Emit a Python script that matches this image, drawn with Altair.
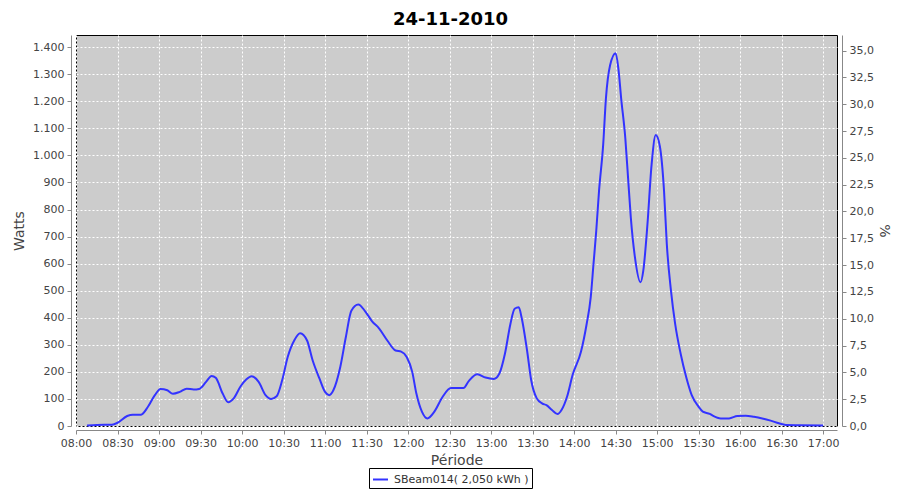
import altair as alt
import pandas as pd

# ---- data ----
times = ["08:08", "08:15", "08:26", "08:30", "08:37", "08:41", "08:47", "08:52", "08:57",
         "09:01", "09:06", "09:10", "09:15", "09:20", "09:25", "09:29", "09:34", "09:38",
         "09:41", "09:46", "09:50", "09:54", "09:59", "10:03", "10:07", "10:12", "10:17",
         "10:21", "10:25", "10:29", "10:33", "10:38", "10:42", "10:47", "10:51", "10:56",
         "11:00", "11:03", "11:06", "11:11", "11:15", "11:19", "11:24", "11:29", "11:34",
         "11:39", "11:45", "11:51", "11:55", "11:59", "12:03", "12:06", "12:10", "12:14",
         "12:19", "12:25", "12:31", "12:40", "12:44", "12:50", "12:56", "13:02", "13:06",
         "13:10", "13:14", "13:17", "13:20", "13:22", "13:26", "13:29", "13:33", "13:37",
         "13:40", "13:44", "13:48", "13:51", "13:55", "13:59", "14:05", "14:09", "14:12",
         "14:14", "14:16", "14:18", "14:21", "14:23", "14:26", "14:30", "14:32", "14:34",
         "14:37", "14:39", "14:41", "14:44", "14:48", "14:50", "14:53", "14:56", "14:59",
         "15:02", "15:05", "15:07", "15:10", "15:13", "15:17", "15:21", "15:25", "15:30",
         "15:33", "15:38", "15:40", "15:46", "15:52", "15:58", "16:04", "16:10", "16:16",
         "16:22", "16:28", "16:33", "16:43", "17:00"]
watts = [2, 4, 5, 12, 37, 42, 42, 71, 114,
         137, 132, 119, 126, 138, 135, 137, 163, 185,
         178, 120, 88, 102, 147, 172, 184, 163, 114,
         100, 110, 169, 255, 319, 343, 316, 243, 175,
         126, 114, 132, 218, 328, 426, 449, 424, 387,
         361, 316, 279, 275, 255, 200, 120, 53, 28,
         53, 108, 140, 140, 167, 191, 179, 174, 194,
         267, 378, 433, 439, 402, 279, 169, 102, 83,
         77, 59, 44, 60, 110, 190, 275, 375, 475,
         598, 721, 868, 1039, 1211, 1333, 1378, 1321, 1211,
         1064, 917, 769, 622, 531, 574, 745, 966, 1075,
         1033, 868, 672, 500, 378, 267, 181, 114, 71,
         53, 45, 39, 28, 28, 37, 38, 34, 28,
         20, 10, 4, 3, 2]
series_name = "SBeam014( 2,050 kWh )"
x_ticks = list(range(480, 1021, 30))          # 08:00 .. 17:00, minutes
watt_ticks = list(range(0, 1401, 100))
pct_ticks = [0, 2.5, 5, 7.5, 10, 12.5, 15, 17.5, 20, 22.5, 25, 27.5, 30, 32.5, 35]


def to_min(t):
    h, m = t.split(":")
    return int(h) * 60 + int(m)


df = pd.DataFrame({"minute": [to_min(t) for t in times], "watts": watts,
                   "series": series_name})
pct_df = pd.DataFrame({"p": [pct_ticks[0], pct_ticks[-1]]})

time_label = ("(floor(datum.value/60) < 10 ? '0' : '') + floor(datum.value/60) + ':' + "
              "(datum.value % 60 < 10 ? '0' : '') + (datum.value % 60)")

x = alt.X("minute:Q",
          scale=alt.Scale(domain=[480, 1030], nice=False, zero=False),
          axis=alt.Axis(values=x_ticks, labelExpr=time_label, title="Période",
                        offset=4, grid=True, labelPadding=3, titlePadding=5,
                        labelFlush=False, labelOverlap=False))

line = alt.Chart(df).mark_line(strokeWidth=2, interpolate="monotone").encode(
    x=x,
    y=alt.Y("watts:Q",
            scale=alt.Scale(domain=[0, 1445], nice=False),
            axis=alt.Axis(values=watt_ticks, orient="left", title="Watts",
                          labelExpr="replace(format(datum.value, ','), ',', '.')",
                          offset=5, grid=True, labelPadding=3, titlePadding=6)),
    color=alt.Color("series:N", scale=alt.Scale(range=["#3333ff"]),
                    legend=alt.Legend(title=None, orient="none", legendX=293, legendY=433,
                                      strokeColor="black", fillColor="white", padding=3,
                                      symbolType="stroke", symbolStrokeWidth=2,
                                      symbolSize=225, labelFont="DejaVu Sans",
                                      labelFontSize=11, labelColor="#333333",
                                      labelOffset=5)),
)

right = alt.Chart(pct_df).mark_point(opacity=0).encode(
    y=alt.Y("p:Q",
            scale=alt.Scale(domain=[0, 36.45], nice=False),
            axis=alt.Axis(values=pct_ticks, orient="right", title="%",
                          labelExpr="replace(format(datum.value, '.1f'), '.', ',')",
                          offset=5, grid=False, labelPadding=3, titlePadding=3))
)

chart = alt.layer(line, right).resolve_scale(y="independent").properties(
    width=761, height=391,
    padding={"left": 68, "top": 27, "right": 55, "bottom": 66},
    autosize=alt.AutoSizeParams(type="none"),
    background="white",
    title=alt.TitleParams("24-11-2010", font="DejaVu Sans", fontSize=18,
                          fontWeight="bold", color="black", anchor="middle",
                          offset=6, dx=-6),
).configure_view(
    fill="#cccccc", stroke="black", strokeWidth=1
).configure_axis(
    domainColor="#888888", tickColor="#888888", tickSize=4,
    labelColor="#444444", titleColor="#444444",
    labelFont="DejaVu Sans", titleFont="DejaVu Sans",
    labelFontSize=11, titleFontSize=14, titleFontWeight="normal",
    gridColor="white", gridDash=[2, 2], gridOpacity=1, gridWidth=1,
)

chart.save("out.html", embed_options={"renderer": "svg", "actions": False})
